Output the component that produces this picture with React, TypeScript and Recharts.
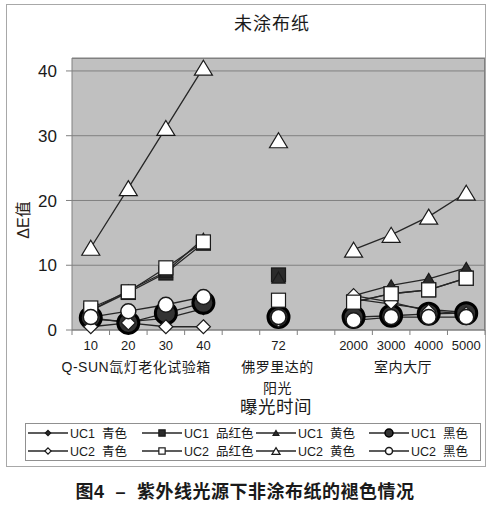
import { CartesianGrid, Line, LineChart, XAxis, YAxis } from 'recharts'

// exposure time categories; blanks keep the gaps between the three groups
const categories = ['10', '20', '30', '40', '', '72', '', '2000', '3000', '4000', '5000']

const uc1Cyan = [1.7, 1.3, 1.8, 3.3, null, 1.6, null, 4.8, 4.0, 3.2, 2.7]
const uc1Magenta = [3.0, 5.8, 8.8, 13.4, null, 8.5, null, 4.3, 5.6, 6.2, 8.0]
const uc1Yellow = [3.0, 6.1, 9.0, 14.1, null, 8.1, null, 5.3, 6.9, 7.9, 9.6]
const uc1Black = [1.9, 1.1, 2.6, 4.2, null, 2.0, null, 2.0, 2.2, 2.5, 2.6]
const uc2Cyan = [0.5, 1.1, 0.5, 0.5, null, 1.5, null, 5.3, 4.3, 2.9, 2.5]
const uc2Magenta = [3.4, 5.9, 9.6, 13.6, null, 4.6, null, 4.3, 5.6, 6.2, 8.0]
const uc2Yellow = [12.7, 21.9, 31.2, 40.5, null, 29.3, null, 12.4, 14.7, 17.5, 21.2]
const uc2Black = [2.0, 2.9, 3.9, 5.1, null, 2.0, null, 1.5, 2.0, 2.0, 2.0]

const yTicks = [0, 10, 20, 30, 40]

const groups = [
  { lines: ['Q-SUN氙灯老化试验箱'], from: 0, to: 3, dx: -11 },
  { lines: ['佛罗里达的', '阳光'], from: 5, to: 5, dx: -1 },
  { lines: ['室内大厅'], from: 7, to: 10, dx: -7 },
]

type Shape = 'diamond' | 'square' | 'triangle' | 'circle'

// Excel draws the series in legend order (row by row)
const series: { key: string; name: string; shape: Shape; filled: boolean; values: (number | null)[] }[] = [
  { key: 'uc1Cyan', name: 'UC1  青色', shape: 'diamond', filled: true, values: uc1Cyan },
  { key: 'uc1Magenta', name: 'UC1  品红色', shape: 'square', filled: true, values: uc1Magenta },
  { key: 'uc1Yellow', name: 'UC1  黄色', shape: 'triangle', filled: true, values: uc1Yellow },
  { key: 'uc1Black', name: 'UC1  黑色', shape: 'circle', filled: true, values: uc1Black },
  { key: 'uc2Cyan', name: 'UC2  青色', shape: 'diamond', filled: false, values: uc2Cyan },
  { key: 'uc2Magenta', name: 'UC2  品红色', shape: 'square', filled: false, values: uc2Magenta },
  { key: 'uc2Yellow', name: 'UC2  黄色', shape: 'triangle', filled: false, values: uc2Yellow },
  { key: 'uc2Black', name: 'UC2  黑色', shape: 'circle', filled: false, values: uc2Black },
]

// slot = position index on the category axis (labels repeat blanks, so index is the key)
const data = categories.map((_, i) => {
  const row: Record<string, number | null> = { slot: i }
  series.forEach((s) => {
    row[s.key] = s.values[i]
  })
  return row
})

const FONT = '"Liberation Sans", Arial, "Noto Sans CJK SC", sans-serif'
const TEXT = '#1a1a1a'
const PLOT = { left: 72, top: 58, right: 485, bottom: 330 }
const BAND = (PLOT.right - PLOT.left) / categories.length

function Marker({
  shape,
  filled,
  cx,
  cy,
  small,
}: {
  shape: Shape
  filled: boolean
  cx: number
  cy: number
  small?: boolean
}) {
  const fill = filled ? '#2b2b2b' : '#ffffff'
  const stroke = '#1a1a1a'
  const k = small ? 0.45 : 1
  if (shape === 'diamond') {
    const s = (filled ? 6 : 7) * k
    return (
      <polygon
        points={`${cx},${cy - s} ${cx + s},${cy} ${cx},${cy + s} ${cx - s},${cy}`}
        fill={fill}
        stroke={stroke}
        strokeWidth={1.2}
      />
    )
  }
  if (shape === 'square') {
    const s = 7 * k
    return <rect x={cx - s} y={cy - s} width={s * 2} height={s * 2} fill={fill} stroke={stroke} strokeWidth={1.2} />
  }
  if (shape === 'triangle') {
    const w = (filled ? 6.5 : 9) * k
    const h = (filled ? 11 : 15) * k
    return (
      <polygon
        points={`${cx},${cy - h / 2} ${cx + w},${cy + h / 2} ${cx - w},${cy + h / 2}`}
        fill={fill}
        stroke={stroke}
        strokeWidth={1.2}
      />
    )
  }
  if (filled) {
    return <circle cx={cx} cy={cy} r={small ? 4 : 10.5} fill="#333" stroke="#000" strokeWidth={small ? 1.5 : 3} />
  }
  return <circle cx={cx} cy={cy} r={small ? 3.5 : 7.5} fill="#fff" stroke={stroke} strokeWidth={1.5} />
}

function CategoryTick(props: any) {
  const { x, y, payload } = props
  const index = Number(payload.value)
  const half = BAND / 2
  const group = groups.find((g) => g.from === index)
  return (
    <g fontFamily={FONT} fill={TEXT}>
      <line x1={x - half} x2={x - half} y1={y} y2={y + 5} stroke="#808080" />
      {index === categories.length - 1 && <line x1={x + half} x2={x + half} y1={y} y2={y + 5} stroke="#808080" />}
      <text x={x} y={y + 19.5} textAnchor="middle" fontSize={13}>
        {categories[index]}
      </text>
      {group &&
        group.lines.map((line, i) => (
          <text
            key={line}
            x={x + ((group.to - group.from) / 2) * BAND + group.dx}
            y={y + 42 + i * 21}
            textAnchor="middle"
            fontSize={14}
            letterSpacing={0.5}
          >
            {line}
          </text>
        ))}
    </g>
  )
}

function Caption({
  cx,
  cy,
  size,
  bold,
  spacing = 0,
  children,
}: {
  cx: number
  cy: number
  size: number
  bold?: boolean
  spacing?: number
  children: string
}) {
  return (
    <div
      style={{
        position: 'absolute',
        left: cx - 220,
        width: 440,
        top: cy - size * 0.6,
        lineHeight: `${size * 1.2}px`,
        fontSize: size,
        fontWeight: bold ? 700 : 400,
        letterSpacing: spacing,
        textAlign: 'center',
        whiteSpace: 'pre',
        color: TEXT,
        fontFamily: FONT,
      }}
    >
      {children}
    </div>
  )
}

const legendCols = [28, 142, 256, 369]
const legendRows = [433, 451]

export default function App() {
  return (
    <div style={{ position: 'absolute', left: 0, top: 0, width: 490, height: 506, background: '#fff' }}>
      <div
        style={{
          position: 'absolute',
          left: 6,
          top: 4,
          width: 478,
          height: 461,
          border: '1px solid #a8a8a8',
        }}
      />
      <div style={{ position: 'absolute', left: 0, top: 0 }}>
        <LineChart
          width={490}
          height={506}
          data={data}
          margin={{ top: PLOT.top, right: 490 - PLOT.right, left: 0, bottom: 506 - PLOT.bottom - 60 }}
        >
          <CartesianGrid vertical={false} stroke="#808080" fill="#c0c0c0" fillOpacity={1} />
          <XAxis
            dataKey="slot"
            type="category"
            padding={{ left: BAND / 2, right: BAND / 2 }}
            interval={0}
            height={60}
            tickLine={false}
            tickSize={0}
            tickMargin={0}
            axisLine={{ stroke: '#808080' }}
            tick={(p: any) => <CategoryTick {...p} />}
          />
          <YAxis
            width={PLOT.left}
            domain={[0, 42]}
            ticks={yTicks}
            tickSize={6}
            tickMargin={9}
            axisLine={{ stroke: '#808080' }}
            tickLine={{ stroke: '#808080' }}
            tick={{ fontSize: 17, fill: TEXT, fontFamily: FONT }}
            label={{
              content: (p: any) => {
                const vb = p.viewBox
                const cx = vb.x + 23
                const cy = vb.y + vb.height / 2 + 26
                return (
                  <text
                    x={cx}
                    y={cy}
                    transform={`rotate(-90 ${cx} ${cy})`}
                    textAnchor="middle"
                    dominantBaseline="central"
                    fontSize={16}
                    fontFamily={FONT}
                    fill="#2a2218"
                  >
                    ΔE值
                  </text>
                )
              },
            }}
          />
          {series.map((s) => (
            <Line
              key={s.key}
              dataKey={s.key}
              name={s.name}
              stroke="#262626"
              strokeWidth={1.3}
              isAnimationActive={false}
              dot={(p: any) =>
                p.value == null || p.cy == null ? (
                  <g key={`${s.key}-${p.index}`} />
                ) : (
                  <g key={`${s.key}-${p.index}`}>
                    <Marker shape={s.shape} filled={s.filled} cx={p.cx} cy={p.cy} />
                  </g>
                )
              }
              activeDot={false}
            />
          ))}
        </LineChart>
      </div>
      <div
        style={{
          position: 'absolute',
          left: PLOT.left,
          top: PLOT.top,
          width: PLOT.right - PLOT.left - 1,
          height: PLOT.bottom - PLOT.top,
          borderTop: '1px solid #808080',
          borderRight: '1px solid #808080',
          pointerEvents: 'none',
        }}
      />
      <Caption cx={272} cy={25} size={18} spacing={1}>
        未涂布纸
      </Caption>
      <Caption cx={276} cy={407} size={17.5} spacing={0.5}>
        曝光时间
      </Caption>
      <Caption cx={245} cy={493} size={18} bold spacing={0.5}>
        {'图4  –  紫外线光源下非涂布纸的褪色情况'}
      </Caption>
      <svg style={{ position: 'absolute', left: 0, top: 0 }} width={490} height={506}>
        <rect x={25.5} y={423.5} width={455} height={37} fill="none" stroke="#909090" />
        {series.map((s, i) => {
          const x = legendCols[i % 4]
          const y = legendRows[Math.floor(i / 4)]
          return (
            <g key={s.key}>
              <line x1={x} x2={x + 40} y1={y} y2={y} stroke="#262626" strokeWidth={1.5} />
              <Marker shape={s.shape} filled={s.filled} cx={x + 20} cy={y} small />
              <text
                x={x + 42}
                y={y + 4.5}
                fontSize={12.5}
                fontFamily={FONT}
                fill={TEXT}
                style={{ whiteSpace: 'pre' }}
              >
                {s.name}
              </text>
            </g>
          )
        })}
      </svg>
    </div>
  )
}
